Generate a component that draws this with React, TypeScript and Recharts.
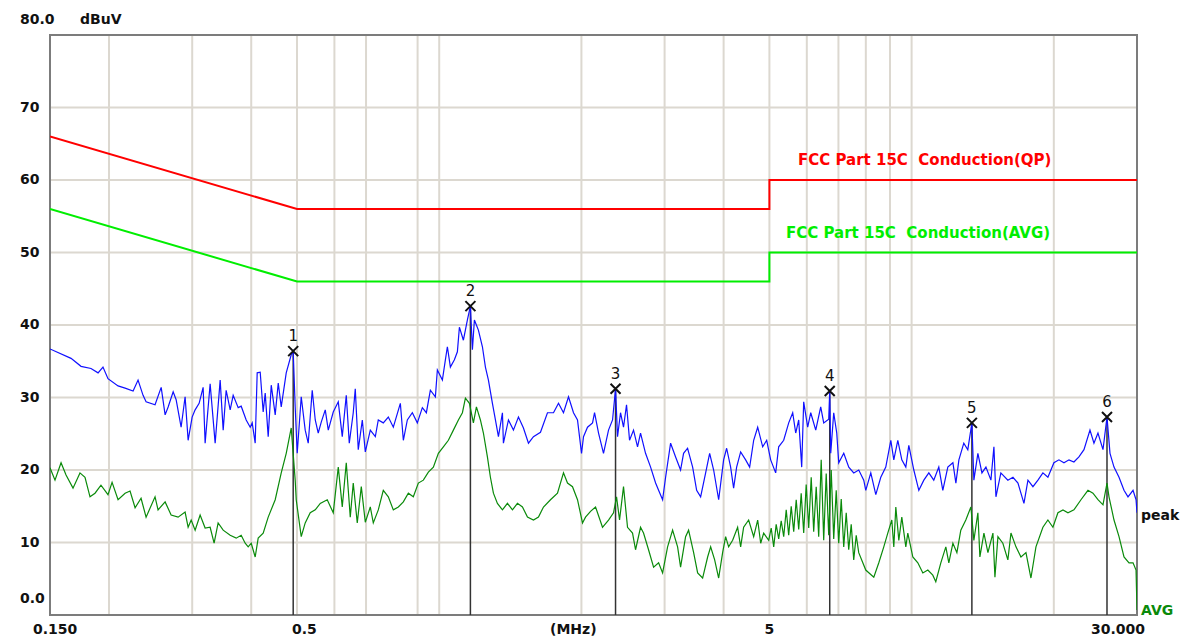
import {
  LineChart,
  Line,
  XAxis,
  YAxis,
  CartesianGrid,
  ReferenceLine,
  ReferenceDot,
  ReferenceArea,
} from "recharts";

const FONT = '"DejaVu Sans", sans-serif';

// axis ticks (MHz / dBuV)
const X_TICKS = [0.15, 0.2, 0.3, 0.4, 0.5, 0.6, 0.7, 0.8, 0.9, 1, 2, 3, 4, 5, 6, 7, 8, 9, 10, 20, 30];
const X_LABELS: Record<string, string> = { "0.15": "0.150", "0.5": "0.5", "5": "5", "30": "30.000" };
const Y_TICKS = [0, 10, 20, 30, 40, 50, 60, 70, 80];

// limit lines [MHz, dBuV]
const QP_LIMIT: [number, number][] = [[0.15, 66], [0.5, 56], [5, 56], [5, 60], [30, 60]];
const AVG_LIMIT: [number, number][] = [[0.15, 56], [0.5, 46], [5, 46], [5, 50], [30, 50]];

// measured peak trace [MHz, dBuV]
const PEAK_TRACE: [number, number][] = [
  [0.15, 36.7], [0.1662, 35.4], [0.1745, 34.3], [0.1832, 34.0], [0.1896, 33.4], [0.1942, 34.2],
  [0.199, 32.6], [0.209, 31.6], [0.2163, 31.3], [0.2249, 30.9], [0.2304, 32.4], [0.2361, 30.3],
  [0.2396, 29.4], [0.2503, 29.0], [0.2579, 31.4], [0.2629, 27.6], [0.2668, 28.7], [0.2734, 30.8],
  [0.2774, 29.7], [0.2842, 25.9], [0.2898, 30.1], [0.2941, 24.1], [0.2999, 27.3], [0.3043, 28.3],
  [0.3103, 29.2], [0.3164, 31.4], [0.3195, 23.7], [0.3274, 31.9], [0.3355, 23.7], [0.3438, 32.4],
  [0.3489, 25.5], [0.354, 31.0], [0.361, 28.3], [0.3663, 30.3], [0.3754, 28.6], [0.3809, 28.8],
  [0.3903, 26.9], [0.398, 25.9], [0.4019, 26.5], [0.4078, 23.7], [0.4118, 33.4], [0.4179, 33.5],
  [0.424, 28.0], [0.4282, 30.6], [0.4345, 24.6], [0.441, 31.7], [0.4496, 27.6], [0.4563, 32.0],
  [0.463, 28.7], [0.4744, 33.4], [0.4861, 35.9], [0.4908, 36.4], [0.4956, 28.7], [0.5005, 22.3],
  [0.5104, 30.1], [0.5204, 25.5], [0.5281, 23.7], [0.5385, 31.0], [0.5465, 26.9], [0.5545, 25.1],
  [0.5627, 26.6], [0.5738, 28.3], [0.5823, 25.5], [0.5966, 28.0], [0.6114, 29.4], [0.6234, 24.6],
  [0.6357, 30.3], [0.6451, 23.7], [0.6577, 27.9], [0.6642, 31.2], [0.674, 22.8], [0.6874, 26.9],
  [0.6975, 22.5], [0.7147, 25.5], [0.7324, 24.6], [0.7431, 26.9], [0.7614, 26.5], [0.7803, 27.3],
  [0.7996, 25.9], [0.8274, 29.2], [0.8396, 24.1], [0.8561, 26.9], [0.8772, 27.9], [0.8988, 26.5],
  [0.9211, 28.6], [0.9393, 27.9], [0.9578, 31.0], [0.9815, 30.1], [0.991, 33.8], [1.0156, 32.4],
  [1.0305, 35.2], [1.0406, 37.0], [1.056, 34.2], [1.0768, 35.2], [1.0926, 36.3], [1.1034, 39.7],
  [1.1251, 37.9], [1.1473, 40.7], [1.1642, 42.6], [1.1756, 36.6], [1.1871, 40.7], [1.2105, 39.3],
  [1.2344, 37.0], [1.2526, 34.2], [1.2711, 32.4], [1.2961, 29.2], [1.3152, 26.9], [1.3346, 24.6],
  [1.3609, 27.9], [1.3675, 23.7], [1.4014, 26.9], [1.4359, 25.5], [1.4714, 27.3], [1.5077, 25.8],
  [1.545, 23.7], [1.5831, 24.6], [1.6382, 25.2], [1.695, 27.9], [1.7454, 27.9], [1.7886, 29.2],
  [1.8326, 27.9], [1.878, 30.1], [1.9243, 27.9], [1.9622, 26.9], [2.001, 22.3], [2.0205, 24.6],
  [2.0603, 25.9], [2.1115, 26.5], [2.1322, 27.9], [2.1742, 25.1], [2.2273, 22.3], [2.2824, 25.5],
  [2.3276, 26.9], [2.3619, 31.2], [2.385, 24.6], [2.42, 27.9], [2.4556, 25.9], [2.4919, 29.0],
  [2.5287, 24.1], [2.5784, 25.5], [2.6292, 23.2], [2.668, 25.1], [2.7339, 22.3], [2.802, 20.4],
  [2.8712, 18.2], [2.9135, 17.2], [2.9708, 15.9], [3.0147, 19.0], [3.089, 23.7], [3.1653, 21.8],
  [3.243, 20.0], [3.2907, 22.3], [3.3555, 23.0], [3.4394, 20.4], [3.5072, 17.2], [3.576, 16.3],
  [3.6643, 19.6], [3.7366, 22.3], [3.8102, 20.0], [3.9045, 15.9], [4.0, 21.4], [4.0591, 23.0],
  [4.139, 20.4], [4.1998, 17.5], [4.2619, 20.4], [4.346, 22.5], [4.4533, 21.4], [4.5411, 20.4],
  [4.6311, 24.1], [4.7224, 25.9], [4.839, 23.2], [4.9343, 24.1], [5.031, 21.4], [5.1553, 19.6],
  [5.2312, 23.2], [5.3607, 24.1], [5.4933, 26.5], [5.6014, 27.9], [5.684, 25.1], [5.7678, 26.9],
  [5.8525, 20.4], [5.9096, 29.4], [6.0261, 25.9], [6.116, 27.9], [6.2671, 25.5], [6.421, 28.7],
  [6.5154, 26.5], [6.6766, 27.0], [6.709, 30.9], [6.742, 22.3], [6.8411, 27.9], [6.9423, 25.1],
  [7.0103, 21.0], [7.1841, 22.3], [7.3618, 20.4], [7.5423, 19.6], [7.7288, 20.0], [7.9197, 18.6],
  [7.9978, 17.2], [8.196, 19.6], [8.3984, 16.6], [8.605, 19.0], [8.8175, 20.4], [9.036, 24.1],
  [9.1688, 21.4], [9.3495, 24.1], [9.5335, 21.4], [9.7213, 20.4], [9.8646, 23.4], [10.108, 20.0],
  [10.358, 17.2], [10.614, 18.6], [10.876, 19.6], [11.141, 18.6], [11.417, 20.4], [11.643, 17.2],
  [11.93, 20.4], [12.229, 21.0], [12.409, 18.2], [12.592, 21.4], [12.897, 23.7], [13.151, 22.8],
  [13.415, 26.5], [13.546, 18.6], [13.813, 22.3], [14.089, 19.6], [14.366, 20.4], [14.72, 18.6],
  [14.936, 23.2], [15.084, 16.3], [15.45, 19.6], [15.986, 18.6], [16.389, 19.0], [16.793, 18.2],
  [17.29, 15.4], [17.631, 18.6], [18.065, 17.7], [18.511, 18.6], [18.964, 19.6], [19.432, 19.0],
  [20.01, 21.0], [20.505, 21.4], [21.014, 21.0], [21.534, 21.4], [22.06, 21.1], [22.605, 21.8],
  [23.166, 22.8], [23.855, 25.5], [24.322, 23.7], [24.802, 25.1], [25.417, 22.8], [25.918, 27.3],
  [26.3, 22.3], [26.819, 20.4], [27.482, 19.0], [28.158, 17.2], [28.713, 16.3], [29.426, 17.2],
  [29.86, 15.9], [30.0, 14.1],
];

// measured average trace [MHz, dBuV]
const AVG_TRACE: [number, number][] = [
  [0.15, 20.3], [0.1537, 18.6], [0.1583, 21.0], [0.1622, 19.3], [0.1678, 17.5], [0.1736, 19.6],
  [0.1779, 19.0], [0.1823, 16.3], [0.1868, 16.8], [0.1923, 17.9], [0.199, 16.6], [0.203, 18.3],
  [0.209, 15.9], [0.2163, 16.8], [0.2216, 17.1], [0.2271, 14.8], [0.2338, 16.1], [0.2396, 13.5],
  [0.2503, 16.3], [0.254, 14.5], [0.2629, 15.6], [0.2707, 13.8], [0.2801, 13.5], [0.2898, 14.2],
  [0.2941, 12.1], [0.2985, 13.1], [0.3043, 11.7], [0.3118, 13.8], [0.3195, 12.0], [0.3274, 12.1],
  [0.3338, 9.9], [0.3404, 12.7], [0.3489, 11.7], [0.361, 11.0], [0.3717, 10.6], [0.3809, 11.0],
  [0.3884, 9.9], [0.3941, 9.4], [0.4, 9.9], [0.4078, 8.0], [0.4138, 10.6], [0.424, 11.3],
  [0.4345, 13.5], [0.4496, 15.9], [0.463, 19.6], [0.4744, 22.3], [0.4861, 25.8], [0.4956, 18.6],
  [0.4981, 15.9], [0.5104, 10.8], [0.5204, 12.7], [0.5333, 14.1], [0.5465, 14.5], [0.56, 15.4],
  [0.5794, 15.9], [0.5966, 14.1], [0.6114, 20.4], [0.6234, 14.9], [0.6357, 21.0], [0.6482, 13.5],
  [0.6577, 18.2], [0.6707, 12.7], [0.684, 17.7], [0.6975, 12.8], [0.7147, 14.9], [0.7252, 12.7],
  [0.7431, 14.5], [0.7614, 17.2], [0.7803, 16.3], [0.7996, 14.5], [0.8194, 14.9], [0.8396, 15.6],
  [0.8603, 16.8], [0.8815, 16.3], [0.9033, 18.2], [0.9256, 18.6], [0.9485, 19.7], [0.9719, 20.4],
  [0.9959, 22.3], [1.0205, 23.2], [1.0457, 24.1], [1.0715, 25.5], [1.098, 26.9], [1.1197, 27.9],
  [1.1362, 29.9], [1.1586, 29.2], [1.1813, 26.5], [1.1988, 28.7], [1.2224, 26.9], [1.2404, 25.1],
  [1.2648, 21.8], [1.2835, 19.0], [1.3024, 16.8], [1.328, 15.4], [1.3609, 14.5], [1.3945, 15.4],
  [1.429, 14.5], [1.4642, 15.4], [1.5005, 14.9], [1.5375, 13.5], [1.5831, 13.1], [1.6223, 13.5],
  [1.6623, 14.9], [1.7201, 15.9], [1.7798, 16.8], [1.8326, 19.6], [1.8688, 18.2], [1.915, 17.7],
  [1.9622, 15.9], [2.0107, 12.7], [2.0404, 13.5], [2.091, 14.3], [2.1426, 14.9], [2.2165, 12.1],
  [2.2824, 13.1], [2.3389, 14.1], [2.3735, 16.3], [2.4085, 13.1], [2.4556, 17.7], [2.504, 12.1],
  [2.5659, 11.3], [2.6038, 9.0], [2.668, 12.1], [2.7072, 11.3], [2.7742, 9.0], [2.8432, 6.6],
  [2.9135, 7.2], [2.9708, 5.8], [3.0441, 9.4], [3.1193, 11.7], [3.1962, 9.4], [3.243, 6.6],
  [3.3231, 10.8], [3.3721, 11.7], [3.4561, 8.6], [3.5242, 5.8], [3.611, 5.1], [3.7001, 8.0],
  [3.755, 9.4], [3.829, 7.6], [3.9045, 5.1], [3.9806, 8.6], [4.0394, 10.8], [4.0989, 9.4],
  [4.1796, 10.3], [4.2826, 12.1], [4.346, 9.4], [4.4099, 12.1], [4.519, 13.1], [4.6311, 10.8],
  [4.7224, 13.1], [4.792, 9.9], [4.8624, 11.3],
  [4.983, 10.3], [5.044, 12.0], [5.106, 9.4], [5.168, 12.5], [5.232, 10.5], [5.296, 13.0],
  [5.361, 10.8], [5.427, 14.5], [5.493, 11.0], [5.561, 15.0], [5.629, 11.5], [5.698, 15.9],
  [5.768, 11.8], [5.838, 16.8], [5.91, 11.3], [5.982, 18.0], [6.056, 12.0], [6.13, 19.0],
  [6.205, 11.5], [6.281, 17.7], [6.358, 10.8], [6.436, 21.4], [6.515, 10.3], [6.595, 19.5],
  [6.676, 11.0], [6.758, 20.0], [6.841, 10.5], [6.925, 17.2], [7.01, 9.9], [7.096, 16.0],
  [7.183, 9.4], [7.271, 14.1], [7.36, 9.0], [7.45, 12.5], [7.542, 7.6], [7.634, 11.0],
  [7.728, 8.6], [7.9978, 6.2], [8.3165, 5.2],
  [8.5222, 7.2], [8.7315, 9.4], [8.9036, 11.3], [9.0803, 13.1], [9.1688, 9.4], [9.2593, 14.9],
  [9.3956, 10.3], [9.5335, 13.5], [9.7213, 9.4], [9.8162, 11.3], [10.06, 8.0], [10.308, 7.2],
  [10.563, 5.8], [10.823, 6.2], [11.088, 5.5], [11.251, 4.6], [11.53, 7.2], [11.815, 9.4],
  [11.989, 7.2], [12.229, 9.9], [12.47, 8.6], [12.71, 11.7], [13.024, 13.1], [13.35, 14.9],
  [13.546, 10.3], [13.813, 14.1], [13.949, 8.0], [14.226, 11.3], [14.506, 8.6], [14.864, 11.3],
  [15.01, 5.2], [15.231, 10.8], [15.601, 9.9], [15.986, 7.6], [16.23, 11.3], [16.631, 9.4],
  [17.04, 8.0], [17.461, 8.6], [17.89, 5.1], [18.332, 9.4], [18.964, 12.1], [19.432, 13.1],
  [19.913, 12.1], [20.404, 14.1], [20.913, 14.5], [21.429, 14.1], [22.06, 14.5], [22.83, 15.9],
  [23.622, 17.2], [24.205, 16.8], [24.802, 15.9], [25.417, 15.2], [25.918, 18.2], [26.172, 16.3],
  [26.819, 13.1], [27.482, 10.8], [28.158, 8.0], [28.854, 7.2], [29.426, 7.2], [29.86, 6.2],
  [30.0, 0.7],
];

// markers
const MARKER_MHZ = [0.4908, 1.1642, 2.3619, 6.709, 13.415, 25.918];
const MARKER_DBUV = [36.4, 42.6, 31.2, 30.9, 26.5, 27.3];

const toRows = (pts: [number, number][]) => pts.map(([f, v]) => ({ f, v }));

function XTick({ x, payload }: any) {
  const key = String(payload.value);
  const label = X_LABELS[key];
  if (!label) return <g />;
  let anchor: "start" | "middle" | "end" = "middle";
  let dx = 0;
  if (key === "0.15") { anchor = "start"; dx = -17; }
  if (key === "0.5") { anchor = "start"; dx = -5; }
  if (key === "30") { anchor = "end"; dx = 8; }
  return (
    <text x={x + dx} y={629} textAnchor={anchor} dominantBaseline="central"
      fontFamily={FONT} fontWeight="bold" fontSize={14} fill="#111">
      {label}
    </text>
  );
}

function YTick({ y, payload }: any) {
  const v = payload.value;
  const label = v === 80 ? "80.0" : v === 0 ? "0.0" : String(v);
  const dy = v === 80 ? -16 : v === 0 ? -17 : -1;
  return (
    <text x={20} y={y + dy} textAnchor="start" dominantBaseline="central"
      fontFamily={FONT} fontWeight="bold" fontSize={14} fill="#111">
      {label}
    </text>
  );
}

const markerShape = (n: number) => (p: any) => {
  const { cx, cy } = p;
  return (
    <g>
      <path d={`M${cx - 5},${cy - 5}L${cx + 5},${cy + 5}M${cx + 5},${cy - 5}L${cx - 5},${cy + 5}`}
        stroke="#111" strokeWidth={2} />
      <text x={cx} y={cy - 15} textAnchor="middle" dominantBaseline="central"
        fontFamily={FONT} fontSize={15} fill="#111">
        {n}
      </text>
    </g>
  );
};

export default function App() {
  const qp = toRows(QP_LIMIT);
  const avgLimit = toRows(AVG_LIMIT);
  const peak = toRows(PEAK_TRACE);
  const avg = toRows(AVG_TRACE);

  return (
    <div style={{ position: "absolute", left: 0, top: 0, width: 1189, height: 639, background: "#fff" }}>
      <LineChart width={1189} height={639} margin={{ top: 35, right: 52, bottom: 0, left: 0 }}>
        <CartesianGrid stroke="#dcd8d0" strokeWidth={2} />
        <XAxis
          type="number"
          dataKey="f"
          scale="log"
          domain={[0.15, 30]}
          ticks={X_TICKS}
          allowDataOverflow
          height={24}
          axisLine={false}
          tickLine={false}
          tick={<XTick />}
        />
        <YAxis
          type="number"
          domain={[0, 80]}
          ticks={Y_TICKS}
          width={50}
          axisLine={false}
          tickLine={false}
          tick={<YTick />}
        />
        <ReferenceArea x1={0.15} x2={30} y1={0} y2={80} fill="none" stroke="#7c7c7c" strokeWidth={2} />
        <Line data={qp} dataKey="v" type="linear" stroke="#ff0000" strokeWidth={2} dot={false} isAnimationActive={false} />
        <Line data={avgLimit} dataKey="v" type="linear" stroke="#00ee00" strokeWidth={2} dot={false} isAnimationActive={false} />
        {MARKER_MHZ.map((f, i) => (
          <ReferenceLine key={`ml-${i}`} segment={[{ x: f, y: MARKER_DBUV[i] }, { x: f, y: 0 }]} stroke="#333" strokeWidth={1.5} />
        ))}
        <Line data={avg} dataKey="v" type="linear" stroke="#0a8a0a" strokeWidth={1.2} dot={false} isAnimationActive={false} />
        <Line data={peak} dataKey="v" type="linear" stroke="#1010ff" strokeWidth={1.2} dot={false} isAnimationActive={false} />
        {MARKER_MHZ.map((f, i) => (
          <ReferenceDot key={`md-${i}`} x={f} y={MARKER_DBUV[i]} r={5} shape={markerShape(i + 1)} />
        ))}
      </LineChart>
      <svg width={1189} height={639} style={{ position: "absolute", left: 0, top: 0, pointerEvents: "none" }}>
        <g fontFamily={FONT} fontWeight="bold" fontSize={14} dominantBaseline="central">
          <text x={80} y={19} fill="#111">dBuV</text>
          <text x={550} y={629} fill="#111">(MHz)</text>
          <text x={1141} y={515} fill="#111">peak</text>
          <text x={1141} y={610} fill="#0a8a0a">AVG</text>
          <text x={798} y={160} fill="#ff0000" fontSize={15} style={{ whiteSpace: "pre" }}>FCC Part 15C  Conduction(QP)</text>
          <text x={786} y={233} fill="#00ee00" fontSize={15} style={{ whiteSpace: "pre" }}>FCC Part 15C  Conduction(AVG)</text>
        </g>
      </svg>
    </div>
  );
}
